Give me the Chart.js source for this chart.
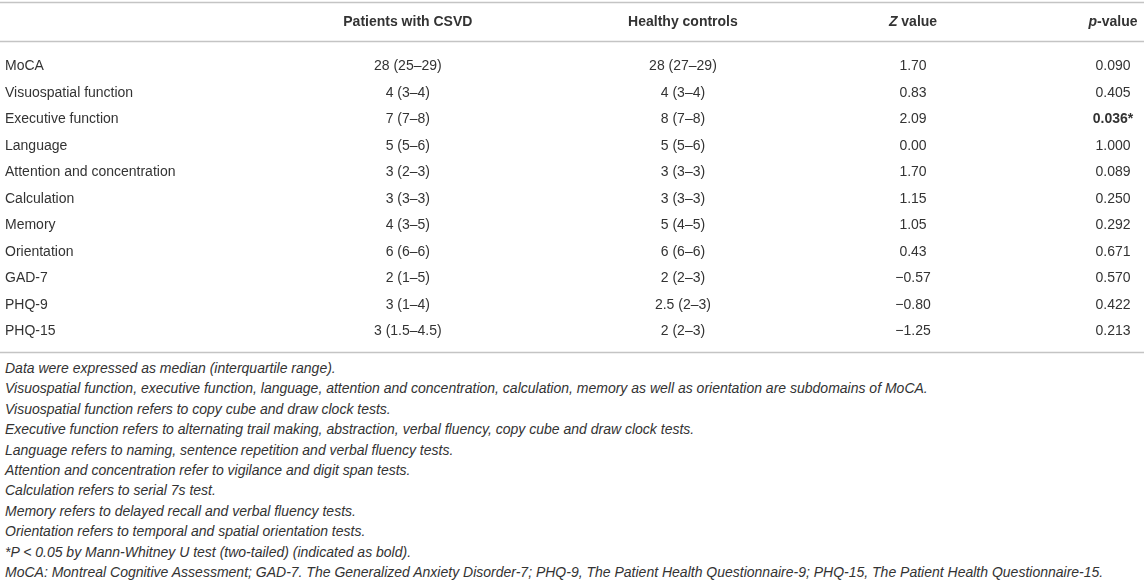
<!DOCTYPE html>
<html>
<head>
<meta charset="utf-8">
<script src="https://cdn.jsdelivr.net/npm/chart.js@4"></script>
<style>
  html, body { margin: 0; padding: 0; background: #fff; }
  #wrap { width: 1144px; height: 581px; overflow: hidden; }
  canvas { display: block; }
  .notes {
    padding-left: 5px;
    font: italic 14px "Liberation Sans", Arial, sans-serif;
    line-height: 20.4px;
    color: #333;
    white-space: nowrap;
  }
</style>
</head>
<body>
<div id="wrap">
  <canvas id="tableChart" width="1144" height="358"></canvas>
  <div class="notes" id="notes"></div>
</div>
<script>
const rowLabels = [
  "MoCA",
  "Visuospatial function",
  "Executive function",
  "Language",
  "Attention and concentration",
  "Calculation",
  "Memory",
  "Orientation",
  "GAD-7",
  "PHQ-9",
  "PHQ-15",
];

const csvdValues = [
  "28 (25–29)", "4 (3–4)", "7 (7–8)", "5 (5–6)", "3 (2–3)", "3 (3–3)",
  "4 (3–5)", "6 (6–6)", "2 (1–5)", "3 (1–4)", "3 (1.5–4.5)",
];

const controlValues = [
  "28 (27–29)", "4 (3–4)", "8 (7–8)", "5 (5–6)", "3 (3–3)", "3 (3–3)",
  "5 (4–5)", "6 (6–6)", "2 (2–3)", "2.5 (2–3)", "2 (2–3)",
];

const zValues = [
  "1.70", "0.83", "2.09", "0.00", "1.70", "1.15",
  "1.05", "0.43", "−0.57", "−0.80", "−1.25",
];

const pValues = [
  "0.090", "0.405", "0.036*", "1.000", "0.089", "0.250",
  "0.292", "0.671", "0.570", "0.422", "0.213",
];

const headerItalic = ["", "", "Z", "p"];
const headerRest = ["Patients with CSVD", "Healthy controls", " value", "-value"];

const footnotes = [
  "Data were expressed as median (interquartile range).",
  "Visuospatial function, executive function, language, attention and concentration, calculation, memory as well as orientation are subdomains of MoCA.",
  "Visuospatial function refers to copy cube and draw clock tests.",
  "Executive function refers to alternating trail making, abstraction, verbal fluency, copy cube and draw clock tests.",
  "Language refers to naming, sentence repetition and verbal fluency tests.",
  "Attention and concentration refer to vigilance and digit span tests.",
  "Calculation refers to serial 7s test.",
  "Memory refers to delayed recall and verbal fluency tests.",
  "Orientation refers to temporal and spatial orientation tests.",
  "*P < 0.05 by Mann-Whitney U test (two-tailed) (indicated as bold).",
  "MoCA: Montreal Cognitive Assessment; GAD-7. The Generalized Anxiety Disorder-7; PHQ-9, The Patient Health Questionnaire-9; PHQ-15, The Patient Health Questionnaire-15.",
];

// layout: column centres on a 0–100 x scale
const colCenters = [21.6, 50.9, 75.4, 96.7];
const FONT = "'Liberation Sans', Arial, sans-serif";
const TEXT = "#333";
const RULE = "#c4c4c4";

const columns = [csvdValues, controlValues, zValues, pValues];

const cellPlugin = {
  id: "cells",
  afterDatasetsDraw(chart) {
    const { ctx, chartArea, scales } = chart;
    ctx.save();

    // rules
    ctx.strokeStyle = RULE;
    ctx.lineWidth = 1.5;
    [2.5, chartArea.top - 11.5, chartArea.bottom + 8].forEach((y) => {
      ctx.beginPath();
      ctx.moveTo(0, y);
      ctx.lineTo(chart.width, y);
      ctx.stroke();
    });

    // header
    ctx.fillStyle = TEXT;
    ctx.textBaseline = "middle";
    ctx.textAlign = "left";
    headerRest.forEach((rest, i) => {
      const cx = scales.x.getPixelForValue(colCenters[i]);
      const italicFont = `italic bold 14px ${FONT}`;
      const boldFont = `bold 14px ${FONT}`;
      ctx.font = italicFont;
      const w1 = ctx.measureText(headerItalic[i]).width;
      ctx.font = boldFont;
      const w2 = ctx.measureText(rest).width;
      let x = cx - (w1 + w2) / 2;
      ctx.font = italicFont;
      ctx.fillText(headerItalic[i], x, 22.5);
      ctx.font = boldFont;
      ctx.fillText(rest, x + w1, 22.5);
    });

    // cells
    ctx.textAlign = "center";
    chart.data.datasets.forEach((ds, di) => {
      const meta = chart.getDatasetMeta(di);
      meta.data.forEach((pt, i) => {
        const text = columns[di][i];
        ctx.font = (text.includes("*") ? "bold " : "") + `14px ${FONT}`;
        ctx.fillText(text, pt.x, pt.y);
      });
    });
    ctx.restore();
  },
};

new Chart(document.getElementById("tableChart"), {
  type: "scatter",
  data: {
    datasets: columns.map((col, ci) => ({
      data: col.map((v, i) => ({ x: colCenters[ci], y: rowLabels[i] })),
      pointRadius: 0,
      pointHoverRadius: 0,
    })),
  },
  options: {
    responsive: false,
    animation: false,
    events: [],
    layout: { padding: { top: 53, bottom: 13.5, left: 5, right: 0 } },
    plugins: { legend: { display: false }, tooltip: { enabled: false } },
    scales: {
      x: { type: "linear", min: 0, max: 100, display: false },
      y: {
        type: "category",
        labels: rowLabels,
        offset: true,
        grid: { display: false },
        border: { display: false },
        ticks: {
          autoSkip: false,
          crossAlign: "far",
          padding: 0,
          color: TEXT,
          font: { family: FONT, size: 14 },
        },
        afterFit(scale) {
          scale.width = 200;
        },
      },
    },
  },
  plugins: [cellPlugin],
});

document.getElementById("notes").innerHTML = footnotes
  .map((t) => `<div>${t.replace(/</g, "&lt;")}</div>`)
  .join("");
</script>
</body>
</html>
